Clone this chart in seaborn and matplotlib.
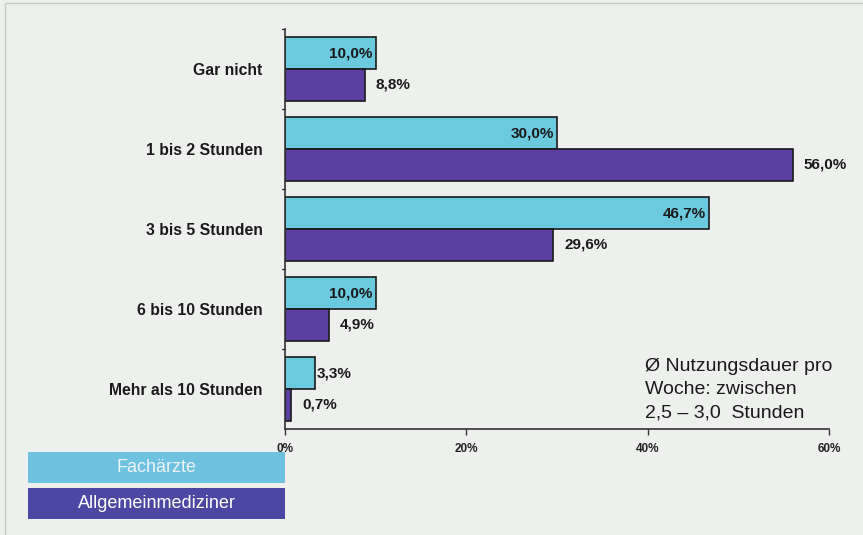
import matplotlib
matplotlib.use("Agg")
import matplotlib.pyplot as plt
from matplotlib.patches import Rectangle
import seaborn as sns
import pandas as pd

categories = ["Gar nicht", "1 bis 2 Stunden", "3 bis 5 Stunden", "6 bis 10 Stunden", "Mehr als 10 Stunden"]
fachaerzte = [10.0, 30.0, 46.7, 10.0, 3.3]
allgemein = [8.8, 56.0, 29.6, 4.9, 0.7]
groups = ["Fachärzte", "Allgemeinmediziner"]
x_ticks = [0, 20, 40, 60]
x_ticklabels = ["0%", "20%", "40%", "60%"]
note = "Ø Nutzungsdauer pro\nWoche: zwischen\n2,5 – 3,0  Stunden"

bar_colors = ["#6ccadf", "#5b3fa0"]
legend_colors = ["#6ec2df", "#4b47a2"]
bg = "#eef0ee"

df = pd.DataFrame({
    "Kategorie": categories * 2,
    "Gruppe": [groups[0]] * len(categories) + [groups[1]] * len(categories),
    "Wert": fachaerzte + allgemein,
})

sns.set_theme(style="white")
plt.rcParams["font.family"] = ["Liberation Sans", "DejaVu Sans"]

fig = plt.figure(figsize=(8.63, 5.35), dpi=100, facecolor=bg)
ax = fig.add_axes([0.330, 0.198, 0.631, 0.748])
ax.set_facecolor(bg)

sns.barplot(data=df, x="Wert", y="Kategorie", hue="Gruppe", order=categories,
            hue_order=groups, palette=bar_colors, saturation=1, orient="h", width=0.79,
            edgecolor="#1a1a1a", linewidth=1.2, legend=False, ax=ax)

ax.set_xlim(0, 60)
ax.set_ylim(4.5, -0.5)
ax.set_xlabel("")
ax.set_ylabel("")
ax.set_xticks(x_ticks)
ax.set_xticklabels(x_ticklabels, fontsize=8.5, fontweight="bold", color="#222222")
ax.tick_params(axis="x", length=4, width=1, color="#333333", direction="out", pad=6, bottom=True)
ax.set_yticks(range(len(categories)))
ax.set_yticklabels(categories, fontsize=11.3, fontweight="bold", color="#1a1a1a")
ax.tick_params(axis="y", length=0, pad=16)
# boundary ticks on the y axis
for b in [-0.5, 0.5, 1.5, 2.5, 3.5]:
    ax.plot([-0.35, 0], [b, b], color="#333333", lw=1, clip_on=False,
            transform=ax.transData)

for s in ["top", "right"]:
    ax.spines[s].set_visible(False)
for s in ["left", "bottom"]:
    ax.spines[s].set_color("#333333")
    ax.spines[s].set_linewidth(1.2)

# value labels
cont_f, cont_a = ax.containers[0], ax.containers[1]
for bar, v in zip(cont_f, fachaerzte):
    y = bar.get_y() + bar.get_height() / 2
    lab = f"{v:.1f}%".replace(".", ",")
    if v > 6:
        ax.text(v - 0.3, y, lab, ha="right", va="center", fontsize=11,
                fontweight="bold", color="#1a1a1a")
    else:
        ax.text(v + 0.2, y, lab, ha="left", va="center", fontsize=11,
                fontweight="bold", color="#1a1a1a")
for bar, v in zip(cont_a, allgemein):
    y = bar.get_y() + bar.get_height() / 2
    lab = f"{v:.1f}%".replace(".", ",")
    ax.text(v + 1.2, y, lab, ha="left", va="center", fontsize=11,
            fontweight="bold", color="#1a1a1a")

# note text
fig.text(0.747, 0.330, note, ha="left", va="top", fontsize=14,
         color="#1a1a1a", linespacing=1.45)

# legend boxes
for i, (g, c) in enumerate(zip(groups, legend_colors)):
    y0 = [0.0972, 0.0299][i]
    fig.patches.append(Rectangle((0.0324, y0), 0.298, 0.058, transform=fig.transFigure,
                                 facecolor=c, edgecolor="none"))
    fig.text(0.0324 + 0.149, y0 + 0.029, g, ha="center", va="center", fontsize=13,
             color="#eef3f6" if i == 0 else "#ffffff")

# faint page border
fig.patches.append(Rectangle((0.006, -0.01), 1.0, 1.004, transform=fig.transFigure,
                             facecolor="none", edgecolor="#c9cbc9", lw=1))

fig.savefig("out.png", dpi=100, facecolor=bg)
